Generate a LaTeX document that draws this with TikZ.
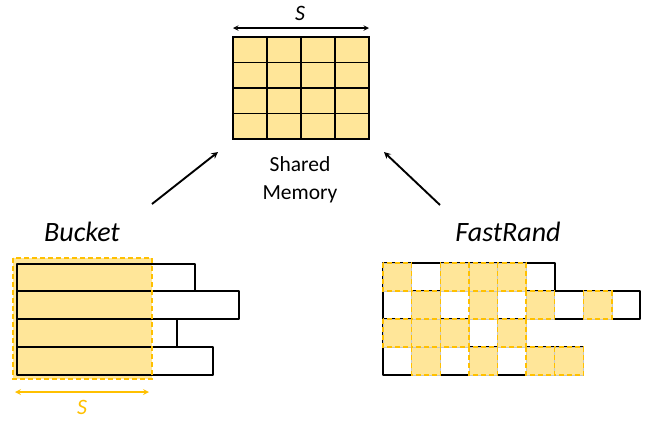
\documentclass[tikz,border=0pt]{standalone}
\usepackage{fontspec}
\setmainfont{Carlito}
\usepackage{tikz}
\usetikzlibrary{arrows}
\definecolor{memfill}{RGB}{255,230,153}
\definecolor{memgold}{RGB}{255,192,0}

\begin{document}
\begin{tikzpicture}[x=1pt,y=-1pt]

\tikzstyle{blk}=[line width=2pt,join=round]
\tikzstyle{thn}=[line width=1.3pt]
\tikzstyle{gld}=[fill=memfill,draw=gray!45,line width=.6pt,postaction={draw=memgold,line width=1.4pt,dash pattern=on 5pt off 3pt}]
\tikzstyle{arr}=[line width=1.9pt,-stealth]
\tikzstyle{lbl}=[font=\fontsize{28}{32}\selectfont\itshape]
\tikzstyle{sz}=[font=\fontsize{22}{26}\selectfont\itshape]

\useasboundingbox (0,0) rectangle (649,424);

\node[shape=coordinate] (mnw) at (233,37){};
\node[shape=coordinate] (mse) at (369,139){};
\node[shape=coordinate] (sl) at (233,28){};
\node[shape=coordinate] (sr) at (369,28){};
\node[shape=coordinate] (al) at (152,204){};
\node[shape=coordinate] (ar) at (440,205){};
\node[shape=coordinate] (ml) at (218,152){};
\node[shape=coordinate] (mr) at (384,152){};
\node[shape=coordinate] (bnw) at (13,258){};
\node[shape=coordinate] (bse) at (152,379){};
\node[shape=coordinate] (bl) at (15,392){};
\node[shape=coordinate] (br) at (149,392){};

% shared memory
\fill[memfill] (mnw) rectangle (mse);
\foreach \i in {1,2,3}{
  \draw[thn] (233+34*\i,37) -- (233+34*\i,139);
  \draw[thn] (233,37+25.5*\i) -- (369,37+25.5*\i);
}
\draw[thn] (mnw) rectangle (mse);
\draw[line width=1.4pt,stealth-stealth] (sl) -- (sr);
\node[sz] (s1) at (300,13) {S};
\node[font=\fontsize{21.5}{28}\selectfont,align=center] (mem) at (300,180) {Shared\\Memory};

\draw[arr] (al) -- (ml);
\draw[arr] (ar) -- (mr);

% bucket
\node[lbl] (bkt) at (82,232) {Bucket};
\fill[memfill] (bnw) rectangle (bse);
\draw[blk] (17,264) rectangle (195,291);
\draw[blk] (17,291) rectangle (239,319);
\draw[blk] (17,319) rectangle (177,347);
\draw[blk] (17,347) rectangle (213,375);
\draw[draw=memgold,line width=1.4pt,dash pattern=on 5pt off 3pt] (bnw) rectangle (bse);
\draw[draw=memgold,line width=1.6pt,stealth-stealth] (bl) -- (br);
\node[sz,text=memgold] (s2) at (82,407) {S};

% fastrand
\node[lbl] (fr) at (508,232) {FastRand};
\draw[blk] (383,263) rectangle +(6*28.6,28);
\draw[blk] (383,291) rectangle +(9*28.6,28);
\draw[blk] (383,319) rectangle +(5*28.6,28);
\draw[blk] (383,347) rectangle +(7*28.6,28);
\foreach \c/\r in {1/1,3/1,4/1,5/1,2/2,4/2,6/2,8/2,1/3,2/3,3/3,5/3,2/4,4/4,6/4,7/4}
  \draw[gld] (383+28.6*\c-28.6,263+28*\r-28) rectangle +(28.6,28);

\end{tikzpicture}
\end{document}
